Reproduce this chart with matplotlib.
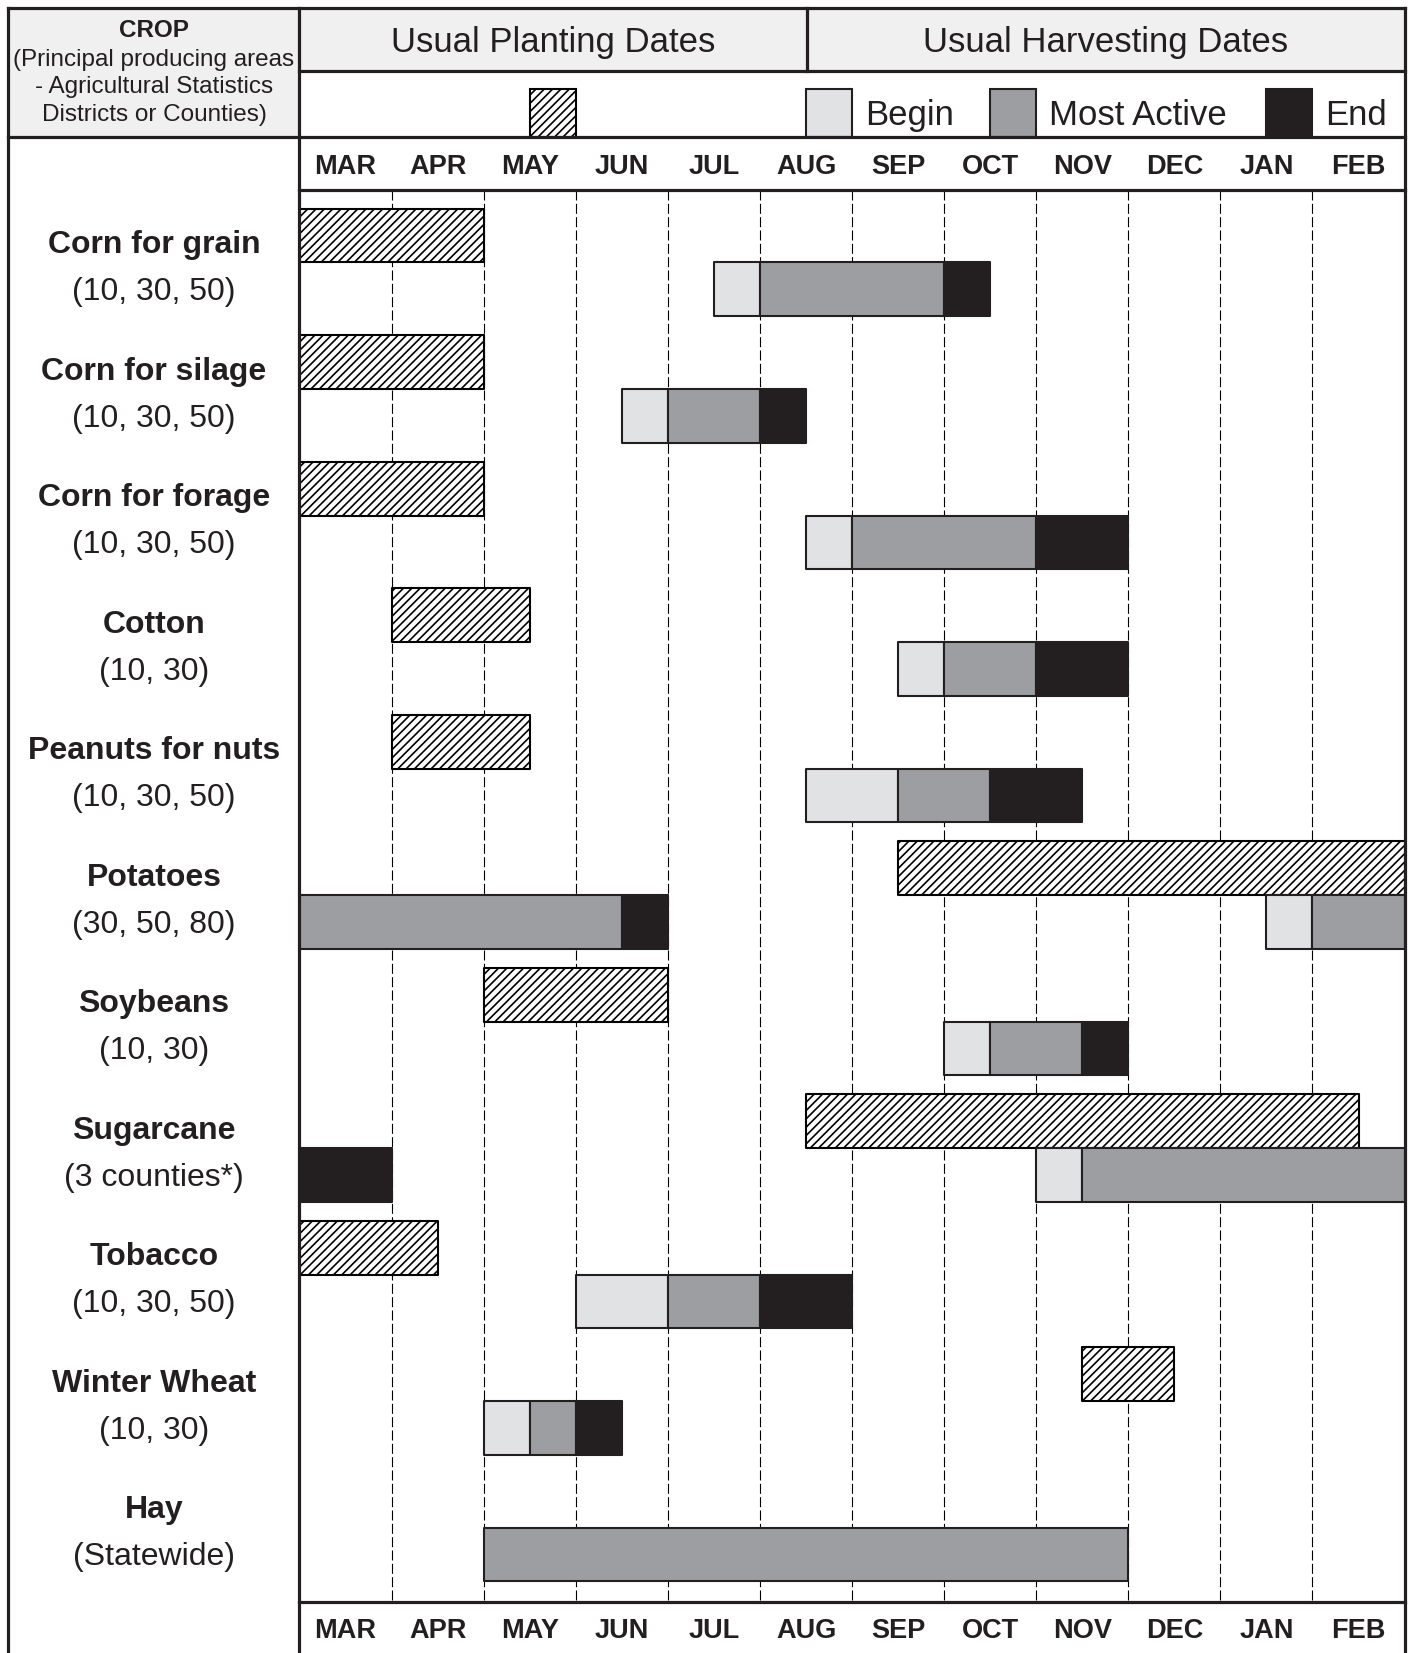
import matplotlib
matplotlib.use("Agg")
from matplotlib import pyplot as plt
from matplotlib.lines import Line2D
from matplotlib.patches import Rectangle

plt.rcParams['font.family'] = ['Liberation Sans', 'DejaVu Sans']
plt.rcParams['hatch.linewidth'] = 1.2

# данные: месяцы от MAR (0) до FEB (12)
months = ['MAR', 'APR', 'MAY', 'JUN', 'JUL', 'AUG', 'SEP', 'OCT', 'NOV', 'DEC', 'JAN', 'FEB']
crops = ['Corn for grain', 'Corn for silage', 'Corn for forage', 'Cotton', 'Peanuts for nuts',
         'Potatoes', 'Soybeans', 'Sugarcane', 'Tobacco', 'Winter Wheat', 'Hay']
areas = ['(10, 30, 50)', '(10, 30, 50)', '(10, 30, 50)', '(10, 30)', '(10, 30, 50)',
         '(30, 50, 80)', '(10, 30)', '(3 counties*)', '(10, 30, 50)', '(10, 30)', '(Statewide)']

# посадка (начало, конец)
planting = [[(0, 2)], [(0, 2)], [(0, 2)], [(1, 2.5)], [(1, 2.5)],
            [(6.5, 12)], [(2, 4)], [(5.5, 11.5)], [(0, 1.5)], [(8.5, 9.5)], []]
# уборка: начало, самый активный период, конец
harv_begin = [[(4.5, 5)], [(3.5, 4)], [(5.5, 6)], [(6.5, 7)], [(5.5, 6.5)],
              [(10.5, 11)], [(7, 7.5)], [(8, 8.5)], [(3, 4)], [(2, 2.5)], []]
harv_active = [[(5, 7)], [(4, 5)], [(6, 8)], [(7, 8)], [(6.5, 7.5)],
               [(0, 3.5), (11, 12)], [(7.5, 8.5)], [(8.5, 12)], [(4, 5)], [(2.5, 3)], [(2, 9)]]
harv_end = [[(7, 7.5)], [(5, 5.5)], [(8, 9)], [(8, 9)], [(7.5, 8.5)],
            [(3.5, 4)], [(8.5, 9)], [(0, 1)], [(5, 6)], [(3, 3.5)], []]

c_begin = '#e1e2e4'
c_active = '#9d9ea2'
c_end = '#231f20'
c_head = '#eff0ef'
c_line = '#231f20'

W, H = 1340.0, 1568.0  # координаты макета


def fx(x):
    return x / W


def fy(y):
    return 1 - y / H


fig = plt.figure(figsize=(14.13, 16.53), dpi=100)

left, right = fx(284), fx(1332)
width = right - left

# заливка шапки
fig.add_artist(Rectangle((fx(8), fy(130)), fx(284) - fx(8), 122 / H, transform=fig.transFigure,
                         facecolor=c_head, edgecolor='none', zorder=0))
fig.add_artist(Rectangle((left, fy(67)), width, 59 / H, transform=fig.transFigure,
                         facecolor=c_head, edgecolor='none', zorder=0))

# основная область графика
ax = fig.add_axes([left, fy(1520), width, 1340 / H])
ax.set_xlim(0, 12)
ax.set_ylim(1340 / 120, 0)
ax.axis('off')
ax.vlines(range(1, 12), 0, 1340 / 120, colors='black', linewidth=0.8,
          linestyles=(0, (9, 3)), zorder=1)

bar_h = 0.425
for i in range(len(crops)):
    y_plant = i + 0.15
    y_harv = i + 0.575
    ax.broken_barh([(a, b - a) for a, b in planting[i]], (y_plant, bar_h),
                   facecolors='white', edgecolor='black', hatch='////', linewidth=1.5, zorder=3)
    for segs, col in [(harv_begin[i], c_begin), (harv_active[i], c_active), (harv_end[i], c_end)]:
        ax.broken_barh([(a, b - a) for a, b in segs], (y_harv, bar_h),
                       facecolors=col, edgecolor=c_line, linewidth=1.5, zorder=3)

# подписи культур
tr = matplotlib.transforms.blended_transform_factory(fig.transFigure, ax.transData)
for i, (name, area) in enumerate(zip(crops, areas)):
    ax.text(fx(146), i + 0.44, name, transform=tr, ha='center', va='center',
            fontsize=23, fontweight='bold', color=c_line)
    ax.text(fx(146), i + 0.81, area, transform=tr, ha='center', va='center',
            fontsize=23, color=c_line)

# строки с месяцами
for y_top, y_bot in [(130, 180), (1520, 1568)]:
    axm = fig.add_axes([left, fy(y_bot), width, (y_bot - y_top) / H])
    axm.set_xlim(0, 12)
    axm.set_ylim(0, 1)
    axm.axis('off')
    for j, m in enumerate(months):
        axm.text(j + 0.5, 0.43, m, ha='center', va='center', fontsize=19.5,
                 fontweight='bold', color=c_line)

# заголовки
axh = fig.add_axes([left, fy(67), width, 59 / H])
axh.set_xlim(0, 12)
axh.set_ylim(0, 1)
axh.axis('off')
axh.text(2.75, 0.45, 'Usual Planting Dates', ha='center', va='center', fontsize=25, color=c_line)
axh.text(8.75, 0.45, 'Usual Harvesting Dates', ha='center', va='center', fontsize=25, color=c_line)

# легенда
axl = fig.add_axes([left, fy(130), width, 63 / H])
axl.set_xlim(0, 12)
axl.set_ylim(0, 1)
axl.axis('off')
sw_h = 46 / 63
axl.bar(2.5, sw_h, width=0.5, align='edge', facecolor='white', edgecolor='black',
        hatch='////', linewidth=1.5)
for x0, col, lab in [(5.5, c_begin, 'Begin'), (7.5, c_active, 'Most Active'), (10.5, c_end, 'End')]:
    axl.bar(x0, sw_h, width=0.5, align='edge', facecolor=col, edgecolor=c_line, linewidth=1.5)
    axl.text(x0 + 0.64, 0.33, lab, ha='left', va='center', fontsize=25, color=c_line)

# заголовок столбца культур
fig.text(fx(146), fy(29), 'CROP', ha='center', va='center', fontsize=17.5, fontweight='bold', color=c_line)
for k, line in enumerate(['(Principal producing areas', '- Agricultural Statistics',
                          'Districts or Counties)']):
    fig.text(fx(146), fy(57 + 26 * k), line, ha='center', va='center', fontsize=17.5, color=c_line)

# рамка таблицы
lw = 2.3
frame = [
    ([8, 1332], [8, 8]),
    ([8, 8], [8, 1568]),
    ([1332, 1332], [8, 1568]),
    ([284, 284], [8, 1568]),
    ([284, 1332], [67, 67]),
    ([765, 765], [8, 67]),
    ([8, 1332], [130, 130]),
    ([284, 1332], [180, 180]),
    ([284, 1332], [1520, 1520]),
]
for xs, ys in frame:
    fig.add_artist(Line2D([fx(v) for v in xs], [fy(v) for v in ys], transform=fig.transFigure,
                          color=c_line, linewidth=lw, solid_capstyle='projecting', zorder=5))

plt.savefig('out.png', dpi=100)
